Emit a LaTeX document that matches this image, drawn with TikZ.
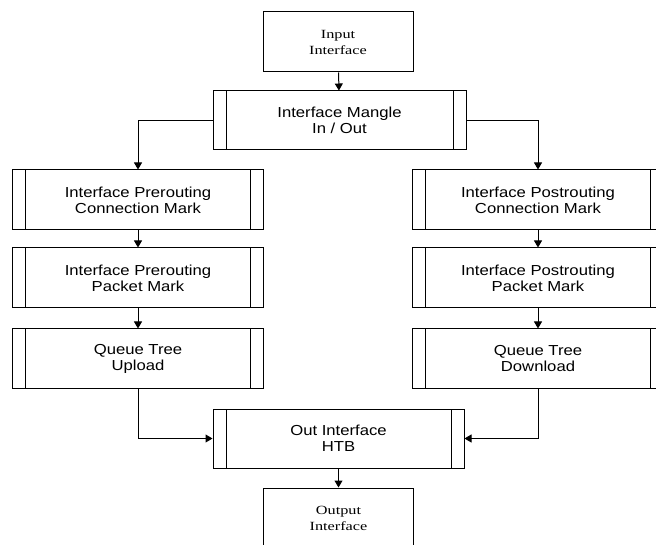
\documentclass[tikz,border=0pt]{standalone}
\usepackage{fontspec}
\newfontfamily\boxsans[FakeStretch=1.15]{Liberation Sans}
\newfontfamily\boxserif[FakeStretch=1.3]{Liberation Serif}
\usetikzlibrary{arrows.meta}

\begin{document}
\begin{tikzpicture}
            [x=1pt, y=-1pt, line width=1pt,
            port/.style={draw, rectangle, align=center, minimum width=150pt, minimum height=60pt,
                inner sep=0pt, font=\boxserif\fontsize{12.5}{16}\selectfont},
            proc/.style={draw, rectangle, align=center, minimum width=251pt, minimum height=59pt,
                inner sep=0pt, font=\boxsans\fontsize{14.5}{16}\selectfont,
                path picture={
                    \draw ([xshift=13pt]path picture bounding box.north west) -- ([xshift=13pt]path picture bounding box.south west);
                    \draw ([xshift=-13pt]path picture bounding box.north east) -- ([xshift=-13pt]path picture bounding box.south east);
                }},
            flow/.style={black, -{Triangle[length=7pt, width=8pt]}}]

            \useasboundingbox (0,0) rectangle (656,545);

            \node[port] (input) at (338,42) {Input\\Interface};
            \node[proc, minimum width=253pt] (mangle) at (339.5,120.5) {Interface Mangle\\In / Out};

            \node[proc, minimum height=60pt] (pre1) at (138,200) {Interface Prerouting\\Connection Mark};
            \node[proc, minimum height=60pt] (pre2) at (138,278) {Interface Prerouting\\Packet Mark};
            \node[proc] (qup) at (138,358.5) {Queue Tree\\Upload};

            \node[proc, minimum height=60pt] (post1) at (538,200) {Interface Postrouting\\Connection Mark};
            \node[proc, minimum height=60pt] (post2) at (538,278) {Interface Postrouting\\Packet Mark};
            \node[proc] (qdown) at (538,358.5) {Queue Tree\\Download};

            \node[proc] (out) at (338.5,438.5) {Out Interface\\HTB};
            \node[port] (output) at (338.5,518) {Output\\Interface};

            % split into the two chains
            \draw[flow] (input) -- (mangle);
            \draw[flow] (mangle.west) -| (pre1.north);
            \draw[flow] (mangle.east) -| (post1.north);

            \draw[flow] (pre1) -- (pre2);
            \draw[flow] (pre2) -- (qup);
            \draw[flow] (post1) -- (post2);
            \draw[flow] (post2) -- (qdown);

            % join again
            \draw[flow] (qup.south) |- (out.west);
            \draw[flow] (qdown.south) |- (out.east);
            \draw[flow] (out) -- (output);

        \end{tikzpicture}
\end{document}
